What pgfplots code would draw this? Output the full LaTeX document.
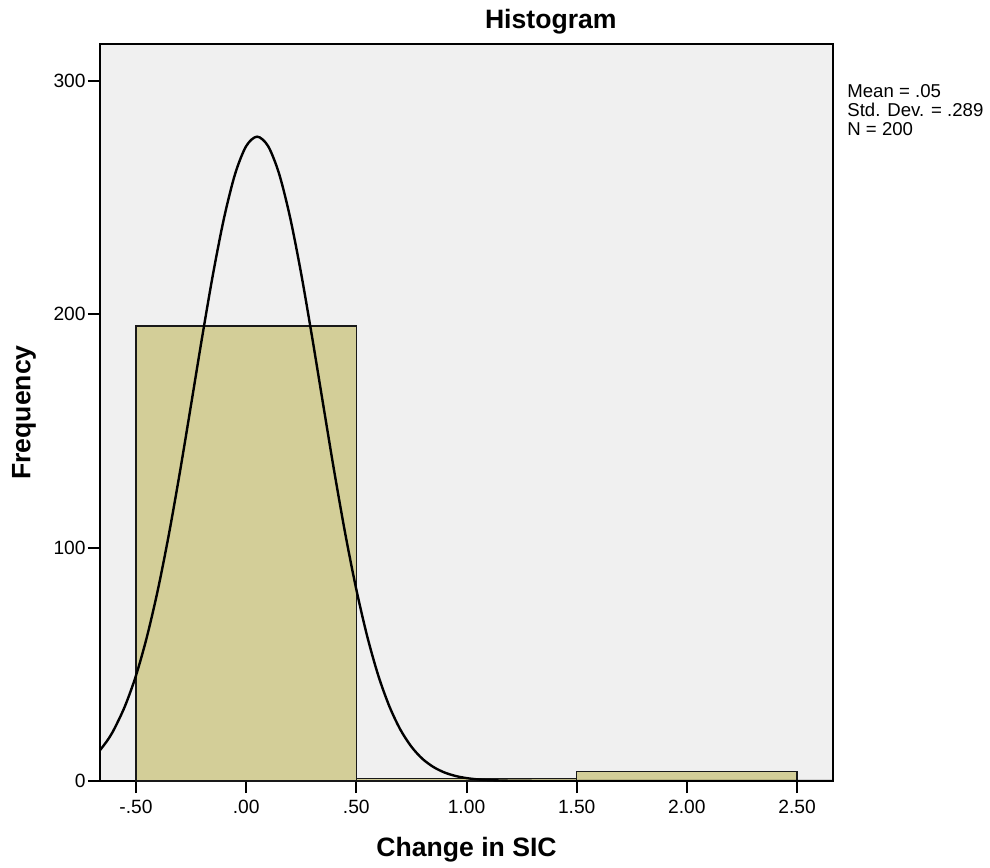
\documentclass[border=0pt]{standalone}
\usepackage{fontspec}
\setmainfont{Liberation Sans}
\usepackage{pgfplots}
\pgfplotsset{compat=1.18}
\definecolor{bgGray}{RGB}{240,240,240}
\definecolor{barFill}{RGB}{211,206,152}

\begin{document}
\begin{tikzpicture}
\begin{axis}[
    scale only axis,
    width=366.5pt, height=368.5pt,
    xmin=-0.663, xmax=2.663,
    ymin=0, ymax=315.8,
    axis background/.style={fill=bgGray},
    axis line style={black, line width=0.9pt},
    xtick={-0.5,0,0.5,1,1.5,2,2.5},
    xticklabels={-.50,.00,.50,1.00,1.50,2.00,2.50},
    ytick={0,100,200,300},
    xtick pos=bottom, ytick pos=left,
    tick align=outside,
    major tick length=6pt,
    tick style={black, line width=1pt},
    tick label style={font=\fontsize{9.6}{11}\selectfont},
    yticklabel style={inner sep=1pt},
    /pgf/number format/assume math mode=true,
    title={\bfseries Histogram},
    every axis title shift=0pt,
    title style={font=\fontsize{13.3}{15}\selectfont, at={(axis description cs:0.615,1.030)}, anchor=center},
    xlabel={\bfseries Change in SIC},
    xlabel style={font=\fontsize{13.3}{15}\selectfont, at={(axis description cs:0.5,-0.0936)}, anchor=center},
    ylabel={\bfseries Frequency},
    ylabel style={font=\fontsize{13.3}{15}\selectfont, at={(axis description cs:-0.1037,0.5)}, anchor=center},
]
% histogram bins (width 1.00)
\addplot[ybar interval, fill=barFill, draw=black!90, line width=0.7pt]
    coordinates {(-0.5,195)(0.5,1)(1.5,4)(2.5,4)};
% normal curve
\addplot[black, line width=1.2pt, smooth] coordinates {
    (-0.663,13.2)(-0.63,17.3)(-0.60,22.0)(-0.55,32.0)(-0.50,45.1)(-0.45,61.8)(-0.40,82.1)
    (-0.35,105.9)(-0.30,132.6)(-0.25,161.1)(-0.20,189.9)(-0.15,217.3)(-0.10,241.3)
    (-0.05,260.1)(0.00,272.0)(0.05,276.1)(0.10,272.0)(0.15,260.1)(0.20,241.3)
    (0.25,217.3)(0.30,189.9)(0.35,161.1)(0.40,132.6)(0.45,105.9)(0.50,82.1)
    (0.55,61.8)(0.60,45.1)(0.65,32.0)(0.70,22.0)(0.75,14.7)(0.80,9.5)(0.85,6.0)
    (0.90,3.65)(0.95,2.16)(1.00,1.24)(1.05,0.69)(1.10,0.38)(1.20,0.10)(1.30,0.02)
    (1.50,0)(2.663,0)
};
\end{axis}
\node[anchor=north west, align=left, inner sep=0pt, font=\fontsize{9.3}{9.6}\selectfont]
    at ([shift={(7pt,-20pt)}]current axis.north east) {Mean = .05\\Std. Dev. = .289\\N = 200};
\pgfresetboundingbox
\path[use as bounding box] ([shift={(-50pt,-43pt)}]current axis.south west)
    rectangle ([shift={(78.5pt,22pt)}]current axis.north east);
\end{tikzpicture}
\end{document}
